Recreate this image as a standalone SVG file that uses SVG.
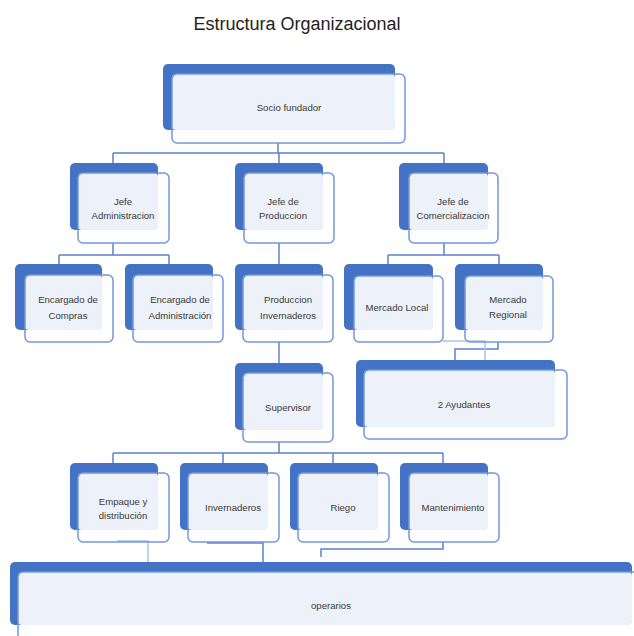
<svg xmlns="http://www.w3.org/2000/svg" width="634" height="636" viewBox="0 0 634 636">
<style>
.back{fill:#4472C4}
.fill{fill:#EDF1F9}
.front{fill:none;stroke:#7397DA;stroke-width:1.5}
.lbl{font-family:"Liberation Sans",Arial,sans-serif;font-size:9.6px;fill:#3a3a3a;text-anchor:middle}
.title{font-family:"Liberation Sans",Arial,sans-serif;font-size:18px;fill:#222;text-anchor:middle}
.conn{fill:none;stroke:#5A83CC;stroke-width:1.5}
.conn-light{fill:none;stroke:#AFC3E8;stroke-width:1.5}
</style>
<rect width="634" height="636" fill="#fff"/>
<text class="title" x="297" y="30">Estructura Organizacional</text>

<g id="connectors">
<path class="conn" d="M278,143 V153 M113,153 H444 M113,153 V163 M279,153 V163 M444,153 V163"/>
<path class="conn" d="M113,243 V255 M59,255 H169 M59,255 V264 M169,255 V264"/>
<path class="conn" d="M279,243 V264"/>
<path class="conn" d="M444,243 V255 M388,255 H499 M388,255 V264 M499,255 V264"/>
<path class="conn" d="M279,342 V363"/>
<path class="conn" d="M498,342 V349 H455 V360"/>
<path class="conn-light" d="M443,341 H485 V360"/>
<path class="conn" d="M279,442 V453 M113,453 H443 M113,453 V463 M223,453 V463 M333,453 V463 M443,453 V463"/>
<path class="conn-light" d="M117,541 H148 V562"/>
<path class="conn" d="M207,543 H263 V562"/>
<path class="conn" d="M443,542 V549 H321 V557"/>
</g>

<g id="socio">
<rect class="back" x="163" y="64" width="232" height="66" rx="5"/>
<rect class="fill" x="172" y="74" width="223" height="56" rx="4"/>
<rect class="front" x="172" y="74" width="233" height="69" rx="5"/>
<text class="lbl" x="289" y="111">Socio  fundador</text>
</g>

<g id="jefe-admin">
<rect class="back" x="70" y="163" width="88" height="67" rx="5"/>
<rect class="fill" x="78" y="173" width="80" height="57" rx="4"/>
<rect class="front" x="78" y="173" width="91" height="70" rx="5"/>
<text class="lbl" x="123" y="205">Jefe</text>
<text class="lbl" x="123" y="219">Administracion</text>
</g>

<g id="jefe-prod">
<rect class="back" x="235" y="163" width="88" height="67" rx="5"/>
<rect class="fill" x="244" y="173" width="79" height="57" rx="4"/>
<rect class="front" x="244" y="173" width="90" height="70" rx="5"/>
<text class="lbl" x="283" y="205">Jefe de</text>
<text class="lbl" x="283" y="219">Produccion</text>
</g>

<g id="jefe-com">
<rect class="back" x="399" y="163" width="89" height="67" rx="5"/>
<rect class="fill" x="409" y="173" width="79" height="57" rx="4"/>
<rect class="front" x="409" y="173" width="89" height="70" rx="5"/>
<text class="lbl" x="453" y="205">Jefe  de</text>
<text class="lbl" x="453" y="219">Comercializacion</text>
</g>

<g id="enc-compras">
<rect class="back" x="15" y="264" width="87" height="66" rx="5"/>
<rect class="fill" x="25" y="275" width="77" height="55" rx="4"/>
<rect class="front" x="25" y="275" width="88" height="67" rx="5"/>
<text class="lbl" x="68" y="303">Encargado de</text>
<text class="lbl" x="68" y="319">Compras</text>
</g>

<g id="enc-admin">
<rect class="back" x="125" y="264" width="88" height="66" rx="5"/>
<rect class="fill" x="133" y="275" width="80" height="55" rx="4"/>
<rect class="front" x="133" y="275" width="90" height="67" rx="5"/>
<text class="lbl" x="180" y="303">Encargado de</text>
<text class="lbl" x="180" y="319">Administración</text>
</g>

<g id="prod-inv">
<rect class="back" x="235" y="264" width="88" height="66" rx="5"/>
<rect class="fill" x="243" y="275" width="80" height="55" rx="4"/>
<rect class="front" x="243" y="275" width="90" height="67" rx="5"/>
<text class="lbl" x="288" y="303">Produccion</text>
<text class="lbl" x="288" y="319">Invernaderos</text>
</g>

<g id="mercado-local">
<rect class="back" x="344" y="264" width="89" height="66" rx="5"/>
<rect class="fill" x="354" y="276" width="79" height="54" rx="4"/>
<rect class="front" x="354" y="276" width="89" height="66" rx="5"/>
<text class="lbl" x="397" y="311">Mercado Local</text>
</g>

<g id="mercado-regional">
<rect class="back" x="455" y="264" width="88" height="66" rx="5"/>
<rect class="fill" x="465" y="276" width="78" height="54" rx="4"/>
<rect class="front" x="465" y="276" width="88" height="66" rx="5"/>
<text class="lbl" x="508" y="303">Mercado</text>
<text class="lbl" x="508" y="318">Regional</text>
</g>

<g id="ayudantes">
<rect class="back" x="356" y="360" width="199" height="67" rx="5"/>
<rect class="fill" x="364" y="370" width="191" height="57" rx="4"/>
<rect class="front" x="364" y="370" width="203" height="69" rx="5"/>
<text class="lbl" x="464" y="408">2 Ayudantes</text>
</g>

<g id="supervisor">
<rect class="back" x="235" y="363" width="88" height="67" rx="5"/>
<rect class="fill" x="243" y="373" width="80" height="57" rx="4"/>
<rect class="front" x="243" y="373" width="90" height="69" rx="5"/>
<text class="lbl" x="288" y="411">Supervisor</text>
</g>

<g id="empaque">
<rect class="back" x="70" y="463" width="88" height="67" rx="5"/>
<rect class="fill" x="78" y="473" width="80" height="57" rx="4"/>
<rect class="front" x="78" y="473" width="91" height="69" rx="5"/>
<text class="lbl" x="123" y="505">Empaque y</text>
<text class="lbl" x="123" y="519">distribución</text>
</g>

<g id="invernaderos">
<rect class="back" x="180" y="463" width="88" height="67" rx="5"/>
<rect class="fill" x="188" y="473" width="80" height="57" rx="4"/>
<rect class="front" x="188" y="473" width="91" height="69" rx="5"/>
<text class="lbl" x="233" y="511">Invernaderos</text>
</g>

<g id="riego">
<rect class="back" x="290" y="463" width="88" height="67" rx="5"/>
<rect class="fill" x="298" y="473" width="80" height="57" rx="4"/>
<rect class="front" x="298" y="473" width="91" height="69" rx="5"/>
<text class="lbl" x="343" y="511">Riego</text>
</g>

<g id="mantenimiento">
<rect class="back" x="400" y="463" width="88" height="67" rx="5"/>
<rect class="fill" x="409" y="473" width="79" height="57" rx="4"/>
<rect class="front" x="409" y="473" width="90" height="69" rx="5"/>
<text class="lbl" x="453" y="511">Mantenimiento</text>
</g>

<g id="operarios">
<rect class="back" x="10" y="562" width="622" height="63" rx="5"/>
<rect class="fill" x="18" y="572" width="614" height="53" rx="4"/>
<rect class="front" x="18" y="572" width="630" height="72" rx="5"/>
<text class="lbl" x="331" y="609">operarios</text>
</g>
</svg>
